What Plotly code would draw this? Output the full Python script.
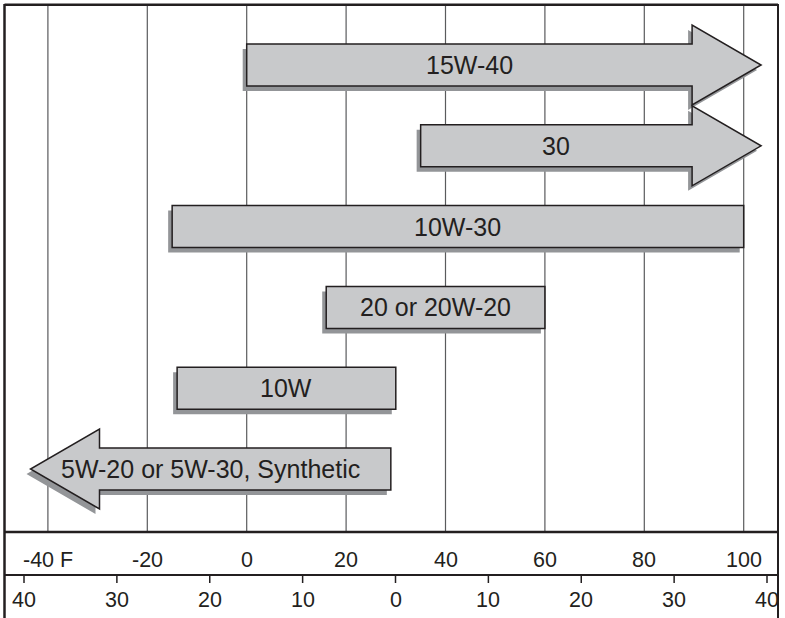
"""
Motor oil viscosity chart: recommended grade by outdoor temperature
Fahrenheit scale on top row, (approximate) Celsius scale below
"""

import plotly.graph_objects as go

# oil grades, top to bottom
grades = ["15W-40", "30", "10W-30", "20 or 20W-20", "10W", "5W-20 or 5W-30, Synthetic"]
# usable temperature range in deg F, None = open ended (drawn as an arrow)
low_f = [0, 35, -15, 16, -14, None]
high_f = [None, None, 100, 60, 30, 29]

# scale rows
f_ticks = [-40, -20, 0, 20, 40, 60, 80, 100]
f_labels = ["-40 F", "-20", "0", "20", "40", "60", "80", "100"]
c_ticks = [-40, -30, -20, -10, 0, 10, 20, 30, 40]
c_labels = ["40", "30", "20", "10", "0", "10", "20", "30", "40"]

# where the open ended arrows stop (edges of the printed scale)
OPEN_LOW_F = -43.5
OPEN_HIGH_F = 103.5

# page geometry (pixels)
W, H = 785, 618
F_ZERO_PX, PX_PER_F = 246.7, 4.97
C_ZERO_PX, PX_PER_C = 395.5, 9.2875
ROW0_PX, PX_PER_ROW = 65, 80.8

BODY_HALF = 21 / PX_PER_ROW
HEAD_HALF = 40 / PX_PER_ROW
HEAD_LEN = 69 / PX_PER_F
SHADOW_DX = -4 / PX_PER_F
SHADOW_DY = 5 / PX_PER_ROW

INK = "#231f20"
FILL = "#c8c9cb"
SHADOW = "#939598"
GRID = "#5a5b5d"


def row_y(px):
    # pixel height on the page -> row units of the y axis
    return (px - ROW0_PX) / PX_PER_ROW


def bar_points(lo, hi, yc):
    if hi is None:
        base = OPEN_HIGH_F - HEAD_LEN
        return [(lo, yc - BODY_HALF), (base, yc - BODY_HALF), (base, yc - HEAD_HALF),
                (OPEN_HIGH_F, yc), (base, yc + HEAD_HALF), (base, yc + BODY_HALF),
                (lo, yc + BODY_HALF)]
    if lo is None:
        base = OPEN_LOW_F + HEAD_LEN
        return [(hi, yc - BODY_HALF), (base, yc - BODY_HALF), (base, yc - HEAD_HALF),
                (OPEN_LOW_F, yc), (base, yc + HEAD_HALF), (base, yc + BODY_HALF),
                (hi, yc + BODY_HALF)]
    return [(lo, yc - BODY_HALF), (hi, yc - BODY_HALF), (hi, yc + BODY_HALF), (lo, yc + BODY_HALF)]


def to_path(pts, dx=0, dy=0):
    return "M " + " L ".join(f"{x + dx:.3f},{y + dy:.3f}" for x, y in pts) + " Z"


fig = go.Figure()

# invisible traces so both x axes exist
fig.add_trace(go.Scatter(x=[f_ticks[0]], y=[0], mode="markers", marker=dict(opacity=0),
                         hoverinfo="skip", showlegend=False))
fig.add_trace(go.Scatter(x=[c_ticks[0]], y=[0], xaxis="x2", mode="markers",
                         marker=dict(opacity=0), hoverinfo="skip", showlegend=False))

shapes = []
annotations = []

# vertical grid lines at the Fahrenheit ticks
for t in f_ticks:
    shapes.append(dict(type="line", xref="x", yref="y", x0=t, x1=t,
                       y0=row_y(5), y1=row_y(531), line=dict(color=GRID, width=1.2)))

# bars with drop shadows
for i, name in enumerate(grades):
    pts = bar_points(low_f[i], high_f[i], i)
    shapes.append(dict(type="path", xref="x", yref="y",
                       path=to_path(pts, SHADOW_DX, SHADOW_DY),
                       fillcolor=SHADOW, line=dict(width=0)))
    shapes.append(dict(type="path", xref="x", yref="y", path=to_path(pts),
                       fillcolor=FILL, line=dict(color=INK, width=1.5)))

    if low_f[i] is None:
        xc = (OPEN_LOW_F + high_f[i]) / 2
    elif high_f[i] is None:
        xc = (low_f[i] + OPEN_HIGH_F - HEAD_LEN) / 2
    else:
        xc = (low_f[i] + high_f[i]) / 2
    annotations.append(dict(x=xc, y=i, xref="x", yref="y", text=name, showarrow=False,
                            font=dict(size=25, color=INK),
                            xanchor="center", yanchor="middle"))

# frame and scale separators
shapes += [
    dict(type="line", xref="paper", yref="paper", x0=4.5 / W, x1=4.5 / W, y0=1 - 4 / H, y1=0,
         line=dict(color=INK, width=2.5)),
    dict(type="line", xref="paper", yref="paper", x0=778 / W, x1=778 / W, y0=1 - 4 / H, y1=0,
         line=dict(color=INK, width=2)),
    dict(type="line", xref="paper", yref="paper", x0=4.5 / W, x1=778 / W, y0=1 - 4.7 / H, y1=1 - 4.7 / H,
         line=dict(color=INK, width=2.5)),
    dict(type="line", xref="paper", yref="paper", x0=4.5 / W, x1=778 / W, y0=1 - 532 / H, y1=1 - 532 / H,
         line=dict(color=INK, width=2.5)),
    dict(type="line", xref="paper", yref="paper", x0=4.5 / W, x1=778 / W, y0=1 - 575 / H, y1=1 - 575 / H,
         line=dict(color=INK, width=1.8)),
]

# Fahrenheit labels
for t, lab in zip(f_ticks, f_labels):
    annotations.append(dict(x=t, y=row_y(560), xref="x", yref="y", text=lab, showarrow=False,
                            font=dict(size=21.5, color=INK), xanchor="center", yanchor="middle"))

# Celsius ticks and labels
for t, lab in zip(c_ticks, c_labels):
    shapes.append(dict(type="line", xref="x2", yref="y", x0=t, x1=t,
                       y0=row_y(575), y1=row_y(583), line=dict(color=INK, width=1.5)))
    annotations.append(dict(x=t, y=row_y(600), xref="x2", yref="y", text=lab, showarrow=False,
                            font=dict(size=21.5, color=INK), xanchor="center", yanchor="middle"))

fig.update_layout(
    width=W, height=H,
    margin=dict(l=0, r=0, t=0, b=0),
    paper_bgcolor="white", plot_bgcolor="white",
    font=dict(family="Liberation Sans, Arial, sans-serif", color=INK),
    xaxis=dict(range=[-F_ZERO_PX / PX_PER_F, (W - F_ZERO_PX) / PX_PER_F], visible=False,
               showgrid=False, zeroline=False, fixedrange=True),
    xaxis2=dict(range=[-C_ZERO_PX / PX_PER_C, (W - C_ZERO_PX) / PX_PER_C], overlaying="x",
                visible=False, showgrid=False, zeroline=False, fixedrange=True),
    yaxis=dict(range=[row_y(H), row_y(0)], visible=False, showgrid=False, zeroline=False,
               fixedrange=True),
    shapes=shapes,
    annotations=annotations,
    showlegend=False,
)

# the page's default 8px body margin would push the figure off the window
fig.write_html("out.html", config={"displayModeBar": False},
               post_script="document.body.style.margin='0';document.body.style.overflow='hidden';")
